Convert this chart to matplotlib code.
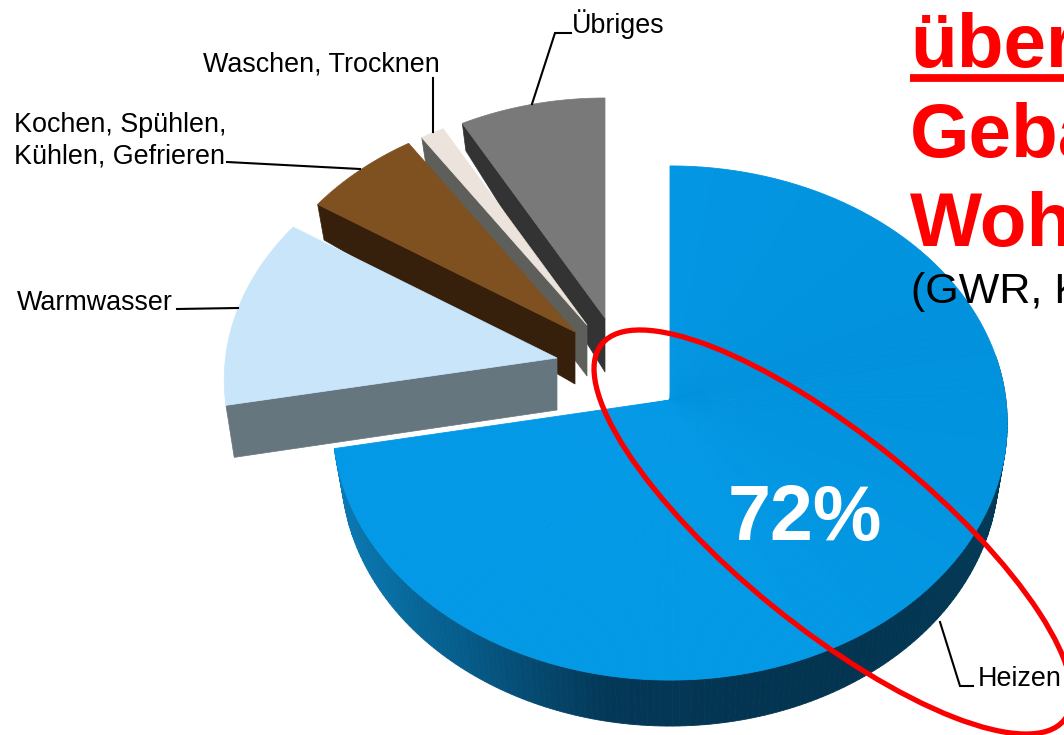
import numpy as np
import matplotlib
matplotlib.use("Agg")
import matplotlib.pyplot as plt
from matplotlib.patches import Ellipse

plt.rcParams['font.family'] = ['Liberation Sans', 'DejaVu Sans']

# data
categories = ["Heizen", "Warmwasser", "Kochen, Spühlen,\nKühlen, Gefrieren", "Waschen, Trocknen", "Übriges"]
shares = [72.0, 12.3, 6.4, 1.3, 8.0]
main_label = "72%"
title_lines = ["über", "Geba", "Woh"]
subtitle = "(GWR, K"

# style / layout
top_colors = ["#0499E5", "#C9E5FA", "#7F5120", "#EBE3DC", "#797979"]
side_colors = ["#003355", "#66767F", "#36200B", "#5E5E5A", "#333333"]
apex = [(670, 400), (557, 358), (575, 332), (587, 325), (605, 318)]
rscale = [1.0, 0.975, 0.95, 0.943, 0.935]
xscale = [0.988, 1.0, 1.0, 1.0, 1.0]
depth = [46, 52, 52, 51, 54]
depth_slope = [0.0, 0.0, 0.6, 0.6, 0.6]
RX, RY, K = 340.0, 255.0, 0.0895


def proj(t_deg, r, c, sx=1.0):
    t = np.radians(np.asarray(t_deg, dtype=float))
    u, v = r * np.sin(t), -r * np.cos(t)
    d = 1 - K * v
    return c[0] + sx * RX * u / d, c[1] + RY * v / d, v


def bottom(x, y, v, c, d0, sl):
    dy = d0 * (1 + sl * np.minimum(v, 0))
    return c[0] + (x - c[0]) * 0.975, y + dy


fig = plt.figure(figsize=(10.64, 7.35), dpi=100)
ax = fig.add_axes([0, 0, 1, 1])
ax.set_xlim(0, 1064)
ax.set_ylim(735, 0)
ax.axis("off")

edges = np.concatenate([[0], np.cumsum(shares)]) * 3.6

# exploded slices, back to front
for i in [4, 3, 2, 1]:
    t0, t1 = edges[i], edges[i + 1]
    c, r = apex[i], rscale[i]
    x0, y0, v0 = proj(t0, r, c)
    bx, by = bottom(x0, y0, v0, c, depth[i], depth_slope[i])
    ax.fill([c[0], x0, bx, c[0]], [c[1], y0, by, c[1] + depth[i]],
            color=side_colors[i], lw=0.5, zorder=2)
    ts = np.linspace(t0, t1, 60)
    xs, ys, _ = proj(ts, r, c)
    ax.fill(np.r_[c[0], xs], np.r_[c[1], ys], color=top_colors[i], lw=0.5, zorder=2)

# main slice: rim with shading by angle
t0, t1 = edges[0], edges[1]
c, r, sx = apex[0], rscale[0], xscale[0]
rim_t = [80, 120, 160, 190, 215, 235, 259.2]
rim_rgb = np.array([[3, 60, 92], [3, 56, 84], [3, 52, 80], [4, 56, 88], [6, 92, 138], [8, 112, 165], [10, 124, 184]]) / 255
ts = np.linspace(80, t1, 181)
for a, b in zip(ts[:-1], ts[1:]):
    seg = np.array([a, b])
    x, y, v = proj(seg, r, c, sx)
    bx, by = bottom(x, y, v, c, depth[0], depth_slope[0])
    col = [np.interp((a + b) / 2, rim_t, rim_rgb[:, k]) for k in range(3)]
    ax.fill(np.r_[x, bx[::-1]], np.r_[y, by[::-1]], color=col, lw=0.6, zorder=3)

# main slice: top face with slight darkening on the right
shade_t = [0, 70, 110, 160, 259.2]
shade_rgb = np.array([[3, 150, 226], [2, 146, 221], [2, 148, 223], [4, 153, 229], [4, 153, 230]]) / 255
ts = np.linspace(t0, t1, 131)
for a, b in zip(ts[:-1], ts[1:]):
    x, y, _ = proj(np.linspace(a, b, 4), r, c, sx)
    col = [np.interp((a + b) / 2, shade_t, shade_rgb[:, k]) for k in range(3)]
    ax.fill(np.r_[c[0], x], np.r_[c[1], y], color=col, lw=0.6, zorder=4)

# red ellipse
ax.add_patch(Ellipse((833, 532), 596, 191, angle=39.1, fill=False, ec="#FA0000", lw=3.8, zorder=6))

ax.text(805, 540, main_label, color="white", fontsize=55.5, fontweight="bold", ha="center", va="baseline", zorder=7)

# leader lines
lead = [
    ([940, 960, 973], [622, 686, 686]),
    ([177, 238], [309, 308]),
    ([227, 360], [162, 169]),
    ([433, 433], [78, 132]),
    ([571, 555, 532], [33, 33, 104]),
]
for (lx, ly) in lead:
    ax.plot(lx, ly, color="black", lw=1.5, zorder=5, solid_joinstyle="miter")

lab_kw = dict(color="black", fontsize=19.4, va="baseline", zorder=7)
ax.text(978, 686, categories[0], ha="left", **lab_kw)
ax.text(17, 310, categories[1], ha="left", **lab_kw)
l1, l2 = categories[2].split("\n")
ax.text(14, 132, l1, ha="left", **lab_kw)
ax.text(14, 163, l2, ha="left", **lab_kw)
ax.text(203, 71, categories[3], ha="left", **lab_kw)
ax.text(572, 33, categories[4], ha="left", **lab_kw)

# title block (runs off the right edge)
for s, yb in zip(title_lines, [67, 157, 246]):
    ax.text(910, yb, s, color="#FF0000", fontsize=55, fontweight="bold", va="baseline", ha="left", zorder=8)
ax.plot([910, 1064], [78, 78], color="#FF0000", lw=5.6, solid_capstyle="butt", zorder=8)
ax.text(911, 303, subtitle, color="black", fontsize=31, va="baseline", ha="left", zorder=8)

fig.savefig("out.png", dpi=100)
